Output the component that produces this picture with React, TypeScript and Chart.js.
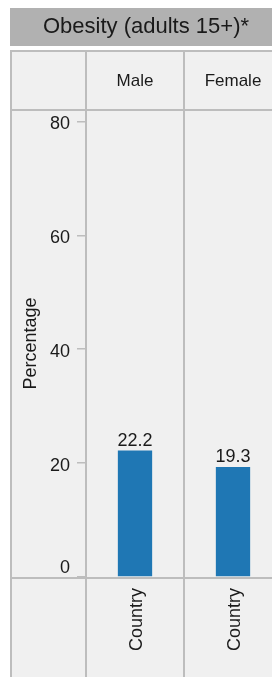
import React, { useEffect, useRef } from "react";
import { Chart, registerables } from "chart.js";

Chart.register(...registerables);

const chartTitle = "Obesity (adults 15+)*";
const groups = ["Male", "Female"];
const bottomLabels = ["Country", "Country"];
const values = [22.2, 19.3];
const yTickValues = [0, 20, 40, 60, 80];
const yTitle = "Percentage";

const W = 300;
const H = 677;
const FONT = "'Liberation Sans', Arial, sans-serif";
const TEXT = "#1a1a1a";
const LINE = "#bdbdbd";

export default function App() {
  const ref = useRef<HTMLCanvasElement | null>(null);

  useEffect(() => {
    if (!ref.current) return;

    const panelPlugin = {
      id: "panelPlugin",
      beforeDraw(chart: any) {
        const { ctx } = chart;
        ctx.save();
        ctx.fillStyle = "#ffffff";
        ctx.fillRect(0, 0, W, H);
        ctx.fillStyle = "#b1b1b1";
        ctx.fillRect(10, 8, W - 10, 38);
        ctx.fillStyle = TEXT;
        ctx.font = `22px ${FONT}`;
        ctx.textAlign = "center";
        ctx.textBaseline = "middle";
        ctx.fillText(chartTitle, 146, 27);
        ctx.fillStyle = "#f0f0f0";
        ctx.fillRect(11, 50, W - 11, H - 50);
        ctx.restore();
      },
      afterDatasetsDraw(chart: any) {
        const { ctx, chartArea } = chart;
        const xs = chart.scales.x;
        const ys = chart.scales.y;
        const n = groups.length;
        const cw = (xs.right - xs.left) / n;
        ctx.save();
        ctx.strokeStyle = LINE;
        ctx.lineWidth = 2;
        ctx.beginPath();
        ctx.moveTo(11, 51);
        ctx.lineTo(W, 51);
        ctx.moveTo(11, 50);
        ctx.lineTo(11, H);
        ctx.moveTo(11, chartArea.top);
        ctx.lineTo(W, chartArea.top);
        ctx.moveTo(11, chartArea.bottom + 1);
        ctx.lineTo(W, chartArea.bottom + 1);
        for (let i = 0; i <= n; i++) {
          const x = Math.round(xs.left + i * cw);
          ctx.moveTo(x, 50);
          ctx.lineTo(x, H);
        }
        ctx.stroke();

        // y tick labels (kept inside the plot area)
        ctx.fillStyle = TEXT;
        ctx.font = `18px ${FONT}`;
        ctx.textAlign = "right";
        ctx.textBaseline = "middle";
        yTickValues.forEach((v) => {
          const py = Math.min(ys.getPixelForValue(v) + 3, chartArea.bottom - 9);
          ctx.fillText(String(v), ys.right - 16, py);
        });

        // value labels
        ctx.textAlign = "center";
        ctx.textBaseline = "bottom";
        const meta = chart.getDatasetMeta(0);
        meta.data.forEach((bar: any, i: number) => {
          ctx.fillText(values[i].toFixed(1), bar.x, bar.y - 1);
        });
        ctx.restore();
      },
    };

    const chart = new Chart(ref.current, {
      type: "bar",
      data: {
        labels: groups,
        datasets: [
          {
            data: values,
            backgroundColor: "#1f77b4",
            borderWidth: 0,
            categoryPercentage: 1,
            barPercentage: 0.35,
            xAxisID: "x",
            yAxisID: "y",
          },
        ],
      },
      options: {
        animation: false,
        responsive: false,
        devicePixelRatio: 1,
        layout: { padding: { left: 0, right: W - 282, top: 0, bottom: 0 } },
        plugins: {
          legend: { display: false },
          title: { display: false },
          tooltip: { enabled: false },
        },
        scales: {
          x: {
            type: "category",
            position: "bottom",
            grid: { display: false },
            border: { display: false },
            ticks: {
              autoSkip: false,
              minRotation: 90,
              maxRotation: 90,
              padding: 3,
              labelOffset: 2,
              color: TEXT,
              font: { family: FONT, size: 18 },
              callback: (_v: any, i: number) => bottomLabels[i],
            },
            afterFit: (s: any) => {
              s.height = H - 577;
            },
          },
          xTop: {
            type: "category",
            position: "top",
            labels: groups,
            offset: true,
            grid: { display: false },
            border: { display: false },
            ticks: {
              autoSkip: false,
              maxRotation: 0,
              minRotation: 0,
              padding: 10,
              color: TEXT,
              font: { family: FONT, size: 17 },
            },
            afterFit: (s: any) => {
              s.height = 110;
            },
          },
          y: {
            type: "linear",
            min: 0,
            max: 82,
            border: { display: false },
            grid: {
              drawOnChartArea: false,
              drawTicks: true,
              tickLength: 9,
              color: LINE,
              lineWidth: 1.5,
            },
            afterBuildTicks: (s: any) => {
              s.ticks = yTickValues.map((v) => ({ value: v }));
            },
            ticks: {
              display: false,
            },
            title: {
              display: true,
              text: yTitle,
              color: TEXT,
              font: { family: FONT, size: 18 },
              padding: { top: 20, bottom: 0 },
            },
            afterFit: (s: any) => {
              s.width = 86;
            },
          },
        },
      },
      plugins: [panelPlugin],
    } as any);

    return () => chart.destroy();
  }, []);

  return (
    <div
      style={{
        position: "absolute",
        left: 0,
        top: 0,
        width: 272,
        height: H,
        overflow: "hidden",
        background: "#fff",
      }}
    >
      <canvas ref={ref} width={W} height={H} style={{ width: W, height: H, display: "block" }} />
    </div>
  );
}
